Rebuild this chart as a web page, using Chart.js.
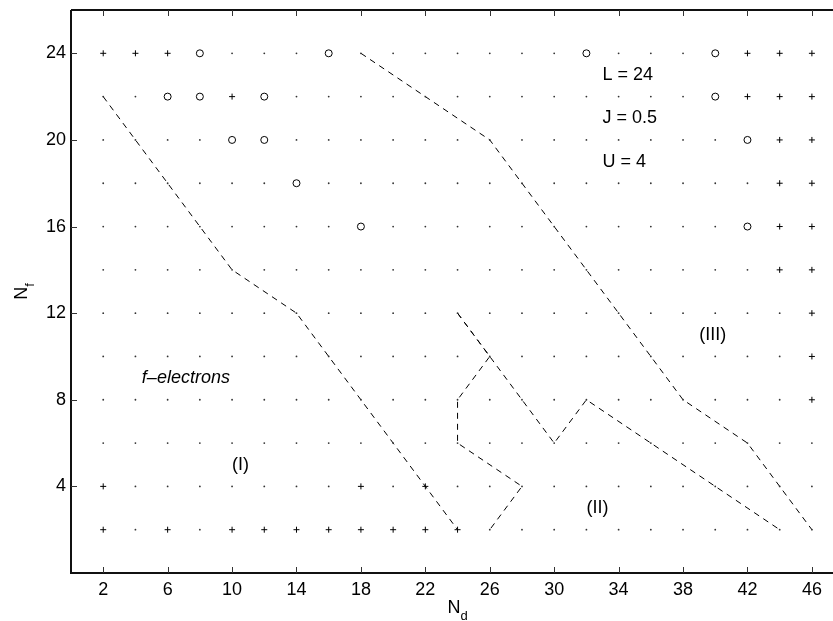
<!DOCTYPE html>
<html>
<head>
<meta charset="utf-8">
<script src="https://cdn.jsdelivr.net/npm/chart.js@4"></script>
<style>
  body { margin: 0; background: #fff; }
  canvas { display: block; }
</style>
</head>
<body>
<canvas id="phase-chart" width="833" height="621"></canvas>
<script>
// Data
const ndTicks = [2, 6, 10, 14, 18, 22, 26, 30, 34, 38, 42, 46];
const nfTicks = [4, 8, 12, 16, 20, 24];
const ndValues = [2, 4, 6, 8, 10, 12, 14, 16, 18, 20, 22, 24, 26, 28, 30, 32, 34, 36, 38, 40, 42, 44, 46];
const nfValues = [2, 4, 6, 8, 10, 12, 14, 16, 18, 20, 22, 24];

// '+' markers
const plusPoints = [
    [2, 24], [4, 24], [6, 24], [42, 24], [44, 24], [46, 24],
    [10, 22], [42, 22], [44, 22], [46, 22],
    [44, 20], [46, 20],
    [44, 18], [46, 18],
    [44, 16], [46, 16],
    [44, 14], [46, 14],
    [46, 12], [46, 10], [46, 8],
    [2, 4], [18, 4], [22, 4],
    [2, 2], [6, 2], [10, 2], [12, 2], [14, 2], [16, 2], [18, 2], [20, 2], [22, 2], [24, 2]
];

// 'o' markers
const circlePoints = [
    [8, 24], [16, 24], [32, 24], [40, 24],
    [6, 22], [8, 22], [12, 22], [40, 22],
    [10, 20], [12, 20], [42, 20],
    [14, 18],
    [18, 16], [42, 16]
];

// Dashed boundaries
const boundaryI = [[2, 22], [10, 14], [14, 12], [24, 2]];
const boundaryIII = [[18, 24], [26, 20], [38, 8], [42, 6], [46, 2]];
const boundaryII = [[24, 12], [26, 10], [30, 6], [32, 8], [44, 2]];
const boundaryInner = [[24, 12], [26, 10], [24, 8], [24, 6], [28, 4], [26, 2]];

// Text labels, in data coordinates
const labels = [
    { text: 'L = 24', x: 33, y: 23, italic: false },
    { text: 'J = 0.5', x: 33, y: 21, italic: false },
    { text: 'U = 4', x: 33, y: 19, italic: false },
    { text: '(III)', x: 39, y: 11, italic: false },
    { text: 'f\u2013electrons', x: 4.4, y: 9, italic: true },
    { text: '(I)', x: 10, y: 5, italic: false },
    { text: '(II)', x: 32, y: 3, italic: false }
];

const FONT = "'Liberation Sans', Arial, Helvetica, sans-serif";

const toXY = p => ({ x: p[0], y: p[1] });
const key = p => p[0] + ',' + p[1];
const marked = new Set(plusPoints.concat(circlePoints).map(key));

const dotPoints = [];
nfValues.forEach(nf => {
    ndValues.forEach(nd => {
        if (!marked.has(key([nd, nf]))) dotPoints.push([nd, nf]);
    });
});

function dashed(points) {
    return {
        type: 'scatter',
        data: points.map(toXY),
        showLine: true,
        borderColor: '#000',
        borderWidth: 1,
        borderDash: [6, 5],
        pointRadius: 0,
        fill: false
    };
}

// Axes box, inward ticks, annotations
const framePlugin = {
    id: 'frame',
    afterDraw(chart) {
        const { ctx, chartArea: a, scales: { x, y } } = chart;
        const right = chart.width;
        ctx.save();
        ctx.strokeStyle = '#111';
        ctx.lineWidth = 2;
        ctx.beginPath();
        ctx.moveTo(a.left, a.top);
        ctx.lineTo(right, a.top);
        ctx.moveTo(a.left, a.top);
        ctx.lineTo(a.left, a.bottom);
        ctx.lineTo(right, a.bottom);
        ctx.stroke();

        ctx.lineWidth = 1;
        ctx.strokeStyle = '#333';
        ctx.beginPath();
        ndTicks.forEach(t => {
            const px = Math.round(x.getPixelForValue(t)) + 0.5;
            ctx.moveTo(px, a.bottom);
            ctx.lineTo(px, a.bottom - 6);
            ctx.moveTo(px, a.top);
            ctx.lineTo(px, a.top + 6);
        });
        nfTicks.forEach(t => {
            const py = Math.round(y.getPixelForValue(t)) + 0.5;
            ctx.moveTo(a.left, py);
            ctx.lineTo(a.left + 6, py);
        });
        ctx.stroke();

        ctx.fillStyle = '#000';
        ctx.textBaseline = 'middle';
        ctx.textAlign = 'left';
        labels.forEach(l => {
            ctx.font = (l.italic ? 'italic ' : '') + '18px ' + FONT;
            ctx.fillText(l.text, x.getPixelForValue(l.x), y.getPixelForValue(l.y));
        });

        // N_d
        ctx.textBaseline = 'alphabetic';
        ctx.font = '18px ' + FONT;
        const nW = ctx.measureText('N').width;
        ctx.font = '13px ' + FONT;
        const dW = ctx.measureText('d').width;
        const cx = x.getPixelForValue(24);
        ctx.font = '18px ' + FONT;
        ctx.fillText('N', cx - (nW + dW) / 2, 613);
        ctx.font = '13px ' + FONT;
        ctx.fillText('d', cx - (nW + dW) / 2 + nW, 620);

        // N_f
        ctx.translate(27, (a.top + a.bottom) / 2);
        ctx.rotate(-Math.PI / 2);
        ctx.font = '13px ' + FONT;
        const fW = ctx.measureText('f').width;
        ctx.font = '18px ' + FONT;
        ctx.fillText('N', -(nW + fW) / 2, 0);
        ctx.font = '13px ' + FONT;
        ctx.fillText('f', -(nW + fW) / 2 + nW, 7);
        ctx.restore();
    }
};

new Chart(document.getElementById('phase-chart'), {
    type: 'scatter',
    data: {
        datasets: [
            {
                data: dotPoints.map(toXY),
                pointStyle: 'circle',
                pointRadius: 0.9,
                backgroundColor: '#333',
                borderWidth: 0
            },
            {
                data: plusPoints.map(toXY),
                pointStyle: 'cross',
                pointRadius: 3,
                borderColor: '#000',
                borderWidth: 1
            },
            {
                data: circlePoints.map(toXY),
                pointStyle: 'circle',
                pointRadius: 3.5,
                backgroundColor: 'rgba(0,0,0,0)',
                borderColor: '#000',
                borderWidth: 1
            },
            dashed(boundaryI),
            dashed(boundaryIII),
            dashed(boundaryII),
            dashed(boundaryInner)
        ]
    },
    options: {
        responsive: false,
        animation: false,
        events: [],
        layout: { padding: { top: 10, right: 0, left: 0, bottom: 0 } },
        plugins: { legend: { display: false }, tooltip: { enabled: false } },
        scales: {
            x: {
                type: 'linear',
                min: 0,
                max: 47,
                grid: { display: false, drawTicks: false },
                border: { display: false },
                afterBuildTicks: s => { s.ticks = ndTicks.map(v => ({ value: v })); },
                afterFit: s => { s.height = 48; s.paddingLeft = 0; s.paddingRight = 0; },
                ticks: { color: '#000', padding: 6, maxRotation: 0, autoSkip: false, font: { family: FONT, size: 18 } }
            },
            y: {
                type: 'linear',
                min: 0,
                max: 26,
                grid: { display: false, drawTicks: false },
                border: { display: false },
                afterBuildTicks: s => { s.ticks = nfTicks.map(v => ({ value: v })); },
                afterFit: s => { s.width = 71; s.paddingTop = 0; s.paddingBottom = 0; },
                ticks: { color: '#000', padding: 5, autoSkip: false, font: { family: FONT, size: 18 } }
            }
        }
    },
    plugins: [framePlugin]
});
</script>
</body>
</html>
